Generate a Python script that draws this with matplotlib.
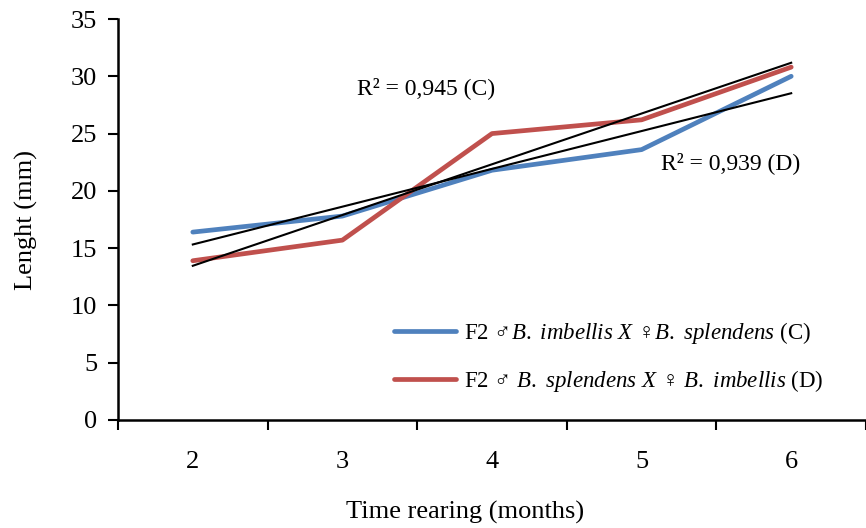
import numpy as np
import matplotlib
matplotlib.use("Agg")
import matplotlib.pyplot as plt

plt.rcParams['font.family'] = ['Liberation Serif', 'DejaVu Serif', 'DejaVu Sans']
plt.rcParams['mathtext.fontset'] = 'custom'
plt.rcParams['mathtext.rm'] = 'Liberation Serif'
plt.rcParams['mathtext.it'] = 'Liberation Serif:italic'

# Data
months = [2, 3, 4, 5, 6]
length_c = [16.4, 17.8, 21.8, 23.6, 30.0]
length_d = [13.9, 15.7, 25.0, 26.2, 30.8]
label_c = "F2 \u2642$\\it{B.}$ $\\it{imbellis}$ $\\it{X}$ \u2640$\\it{B.}$ $\\it{splendens}$ (C)"
label_d = "F2 \u2642 $\\it{B.}$ $\\it{splendens}$ $\\it{X}$ \u2640 $\\it{B.}$ $\\it{imbellis}$ (D)"
r2_c = "R\u00b2 = 0,945 (C)"
r2_d = "R\u00b2 = 0,939 (D)"

fig = plt.figure(figsize=(8.66, 5.28), dpi=100)
ax = fig.add_axes([118 / 866, 1 - 420 / 528, 1 - 118 / 866, 401 / 528])

x = np.array(months)
ax.plot(x, length_c, color='#4F81BD', lw=3.4, solid_capstyle='round', label=label_c)
ax.plot(x, length_d, color='#C0504D', lw=3.4, solid_capstyle='round', label=label_d)

# linear trendlines
for ys in (length_c, length_d):
    k, b = np.polyfit(x, ys, 1)
    ax.plot(x, k * x + b, color='black', lw=1.5)

ax.set_xlim(1.5, 6.5)
ax.set_ylim(0, 35)
ax.set_yticks(range(0, 36, 5))
ax.set_xticks(months)
ax.set_xticks(np.arange(1.5, 7, 1), minor=True)
ax.tick_params(axis='x', which='major', length=0, labelsize=19, pad=22)
ax.tick_params(axis='x', which='minor', length=7, width=1.5, direction='out')
ax.tick_params(axis='y', length=7, width=1.5, labelsize=19, pad=8)

for s in ('top', 'right'):
    ax.spines[s].set_visible(False)
for s in ('left', 'bottom'):
    ax.spines[s].set_linewidth(1.8)

fig.text(26 / 866, 1 - 220 / 528, 'Lenght (mm)', rotation=90, ha='center', va='center', fontsize=19)
fig.text(465 / 866, 1 - 512 / 528, 'Time rearing (months)', ha='center', va='center', fontsize=19)

ax.text(3.095, 29.0, r2_c, fontsize=17, va='center')
ax.text(5.13, 22.4, r2_d, fontsize=17, va='center')

ax.legend(loc='upper left', bbox_to_anchor=(394 / 866, 1 - 320 / 528),
          bbox_transform=fig.transFigure, frameon=False, fontsize=16.5,
          handlelength=2.7, handletextpad=0.35, labelspacing=0.95,
          borderpad=0, borderaxespad=0)

fig.savefig('out.png', dpi=100)
